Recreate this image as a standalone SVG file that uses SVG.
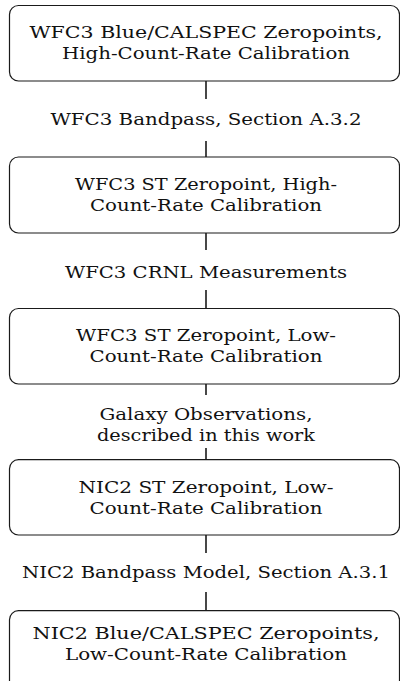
<svg xmlns="http://www.w3.org/2000/svg" width="400" height="681" viewBox="0 0 400 681">
<style>
.box{fill:#fff;stroke:#1a1a1a;stroke-width:1.2}
.edge{stroke:#1a1a1a;stroke-width:1.6;fill:none}
.t{font-family:'DejaVu Serif',serif;font-size:16.5px;fill:#111;text-anchor:middle}
</style>
<rect width="400" height="681" fill="#fff"/>
<g id="connectors">
<line class="edge" x1="206" y1="81" x2="206" y2="99"/>
<line class="edge" x1="206" y1="141" x2="206" y2="157"/>
<text class="t" x="206" y="125" textLength="311" lengthAdjust="spacingAndGlyphs">WFC3 Bandpass, Section A.3.2</text>
<line class="edge" x1="206" y1="233" x2="206" y2="250"/>
<line class="edge" x1="206" y1="290" x2="206" y2="308"/>
<text class="t" x="206" y="278" textLength="282" lengthAdjust="spacingAndGlyphs">WFC3 CRNL Measurements</text>
<line class="edge" x1="206" y1="384" x2="206" y2="395"/>
<line class="edge" x1="206" y1="448" x2="206" y2="460"/>
<text class="t" x="206" y="419.5" textLength="213" lengthAdjust="spacingAndGlyphs">Galaxy Observations,</text>
<text class="t" x="206" y="440.5" textLength="218" lengthAdjust="spacingAndGlyphs">described in this work</text>
<line class="edge" x1="206" y1="535" x2="206" y2="553"/>
<line class="edge" x1="206" y1="592" x2="206" y2="611"/>
<text class="t" x="206" y="578" textLength="368" lengthAdjust="spacingAndGlyphs">NIC2 Bandpass Model, Section A.3.1</text>
</g>
<g id="n1">
<rect class="box" x="9.5" y="5.5" width="390" height="75.5" rx="9"/>
<text class="t" x="206" y="37.7" textLength="353" lengthAdjust="spacingAndGlyphs">WFC3 Blue/CALSPEC Zeropoints,</text>
<text class="t" x="206" y="59" textLength="288" lengthAdjust="spacingAndGlyphs">High-Count-Rate Calibration</text>
</g>
<g id="n2">
<rect class="box" x="9.5" y="157" width="390" height="76" rx="9"/>
<text class="t" x="206" y="189.8" textLength="262" lengthAdjust="spacingAndGlyphs">WFC3 ST Zeropoint, High-</text>
<text class="t" x="206" y="211" textLength="232" lengthAdjust="spacingAndGlyphs">Count-Rate Calibration</text>
</g>
<g id="n3">
<rect class="box" x="9.5" y="308.5" width="390" height="75.5" rx="9"/>
<text class="t" x="206" y="341" textLength="260" lengthAdjust="spacingAndGlyphs">WFC3 ST Zeropoint, Low-</text>
<text class="t" x="206" y="362" textLength="233" lengthAdjust="spacingAndGlyphs">Count-Rate Calibration</text>
</g>
<g id="n4">
<rect class="box" x="9.5" y="459.7" width="390" height="75.3" rx="9"/>
<text class="t" x="206" y="492.7" textLength="255" lengthAdjust="spacingAndGlyphs">NIC2 ST Zeropoint, Low-</text>
<text class="t" x="206" y="514" textLength="233" lengthAdjust="spacingAndGlyphs">Count-Rate Calibration</text>
</g>
<g id="n5">
<rect class="box" x="9.5" y="610.7" width="390" height="90" rx="9"/>
<text class="t" x="206" y="638.7" textLength="347" lengthAdjust="spacingAndGlyphs">NIC2 Blue/CALSPEC Zeropoints,</text>
<text class="t" x="206" y="659.5" textLength="282" lengthAdjust="spacingAndGlyphs">Low-Count-Rate Calibration</text>
</g>
</svg>
